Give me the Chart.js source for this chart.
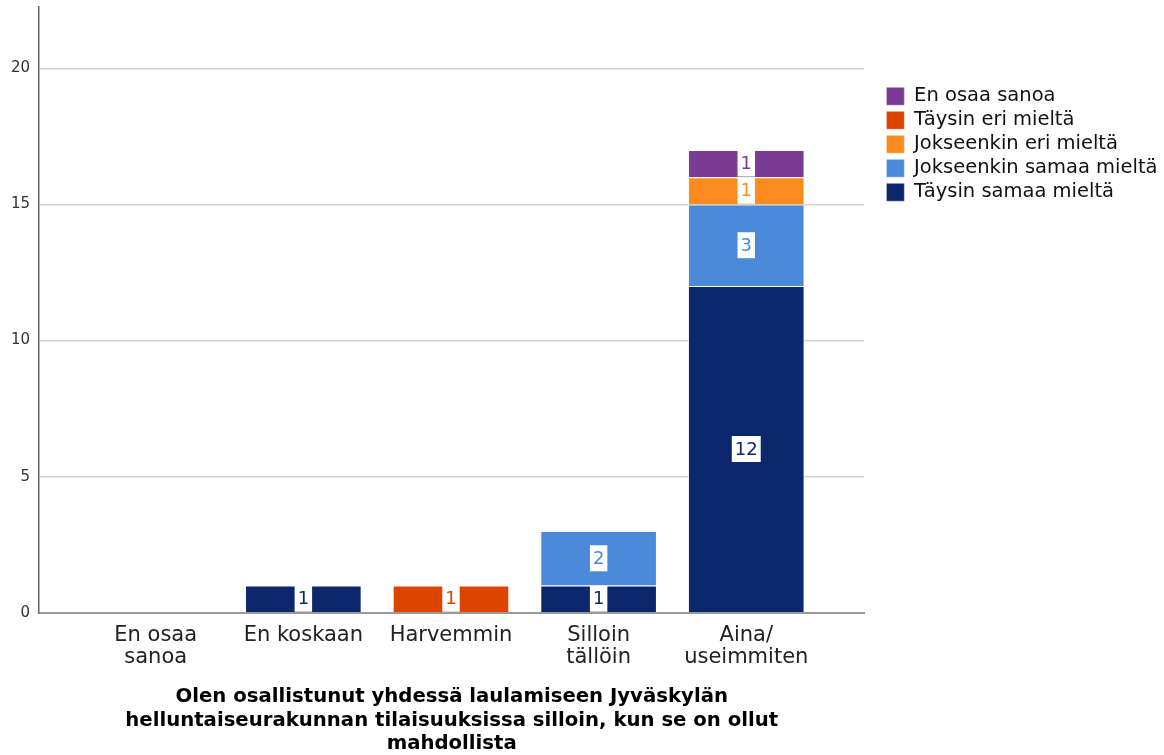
<!DOCTYPE html>
<html>
<head>
<meta charset="utf-8">
<script src="https://cdn.jsdelivr.net/npm/chart.js@4"></script>
<style>
  html, body { margin: 0; padding: 0; background: #fff; }
  #wrap { width: 1164px; height: 755px; position: relative; }
</style>
</head>
<body>
<div id="wrap"><canvas id="c"></canvas></div>
<script>
const categories = [["En osaa", "sanoa"], ["En koskaan"], ["Harvemmin"], ["Silloin", "tällöin"], ["Aina/", "useimmiten"]];
const seriesNames = ["Täysin samaa mieltä", "Jokseenkin samaa mieltä", "Jokseenkin eri mieltä", "Täysin eri mieltä", "En osaa sanoa"];
const taysinSamaa = [0, 1, 0, 1, 12];
const jokseenkinSamaa = [0, 0, 0, 2, 3];
const jokseenkinEri = [0, 0, 0, 0, 1];
const taysinEri = [0, 0, 1, 0, 0];
const enOsaa = [0, 0, 0, 0, 1];
const seriesColors = ["#0c276c", "#4a8ad9", "#fb8c1d", "#dd4400", "#7a3b94"];
const yTicks = [0, 5, 10, 15, 20];
const axisTitle = ["Olen osallistunut yhdessä laulamiseen Jyväskylän", "helluntaiseurakunnan tilaisuuksissa silloin, kun se on ollut", "mahdollista"];

const seriesValues = [taysinSamaa, jokseenkinSamaa, jokseenkinEri, taysinEri, enOsaa];
const FONT = "'DejaVu Sans', sans-serif";
const LEGEND_SHIFT = 17.5;

const labelPlugin = {
  id: 'boxLabels',
  afterLayout(chart) {
    if (chart.legend) {
      chart.legend.left += LEGEND_SHIFT;
      chart.legend.right += LEGEND_SHIFT + 5;
    }
  },
  afterDatasetsDraw(chart) {
    const ctx = chart.ctx;
    ctx.save();
    ctx.font = "18px " + FONT;
    ctx.textAlign = 'center';
    ctx.textBaseline = 'middle';
    chart.data.datasets.forEach((ds, di) => {
      const meta = chart.getDatasetMeta(di);
      meta.data.forEach((el, i) => {
        const v = ds.data[i];
        if (!v) return;
        const cx = el.x;
        const cy = (el.y + el.base) / 2;
        const txt = String(v);
        const w = ctx.measureText(txt).width + 6;
        const h = 26;
        ctx.fillStyle = '#ffffff';
        ctx.fillRect(cx - w / 2, cy - h / 2, w, h);
        ctx.fillStyle = ds.backgroundColor;
        ctx.fillText(txt, cx, cy + 1);
      });
    });
    ctx.restore();
  }
};

new Chart(document.getElementById('c'), {
  type: 'bar',
  data: {
    labels: categories.map((_, i) => i),
    datasets: seriesValues.map((vals, k) => ({
      label: seriesNames[k],
      data: vals,
      backgroundColor: seriesColors[k],
      borderColor: 'rgba(255,255,255,0.45)',
      borderWidth: 1,
      barPercentage: 0.79,
      categoryPercentage: 1.0
    }))
  },
  options: {
    responsive: true,
    maintainAspectRatio: false,
    animation: false,
    layout: { padding: { left: 2, top: 7, right: 14, bottom: 0 } },
    plugins: {
      tooltip: { enabled: false },
      legend: {
        position: 'right',
        align: 'start',
        reverse: true,
        title: { display: true, text: '', padding: { top: 65, bottom: 0 }, font: { size: 10, lineHeight: 1 } },
        labels: {
          boxWidth: 18,
          boxHeight: 18,
          padding: 4.5,
          color: '#111',
          font: { family: FONT, size: 19.5 }
        }
      }
    },
    scales: {
      x: {
        type: 'linear',
        stacked: true,
        offset: false,
        min: -0.79,
        max: 4.8,
        afterBuildTicks: (s) => { s.ticks = categories.map((_, i) => ({ value: i })); },
        grid: { display: false, drawTicks: false },
        border: { display: true, color: '#999', width: 2 },
        ticks: {
          maxRotation: 0,
          autoSkip: false,
          padding: 12,
          color: '#222',
          font: { family: FONT, size: 21, lineHeight: 1.05 },
          callback: (v) => categories[v]
        },
        title: {
          display: true,
          text: axisTitle,
          color: '#000',
          padding: { top: 5, bottom: 0 },
          font: { family: FONT, size: 19.7, weight: 'bold', lineHeight: 1.17 }
        }
      },
      y: {
        stacked: true,
        min: 0,
        max: 22.25,
        afterBuildTicks: (s) => { s.ticks = yTicks.map(v => ({ value: v })); },
        afterFit: (s) => { s.paddingTop = 0; s.paddingBottom = 0; },
        grid: { color: '#d4d4d4', lineWidth: 1.5, drawTicks: false },
        border: { display: true, color: '#666', width: 1.5 },
        ticks: { padding: 9, color: '#333', font: { family: FONT, size: 15 } }
      }
    }
  },
  plugins: [labelPlugin]
});
</script>
</body>
</html>
